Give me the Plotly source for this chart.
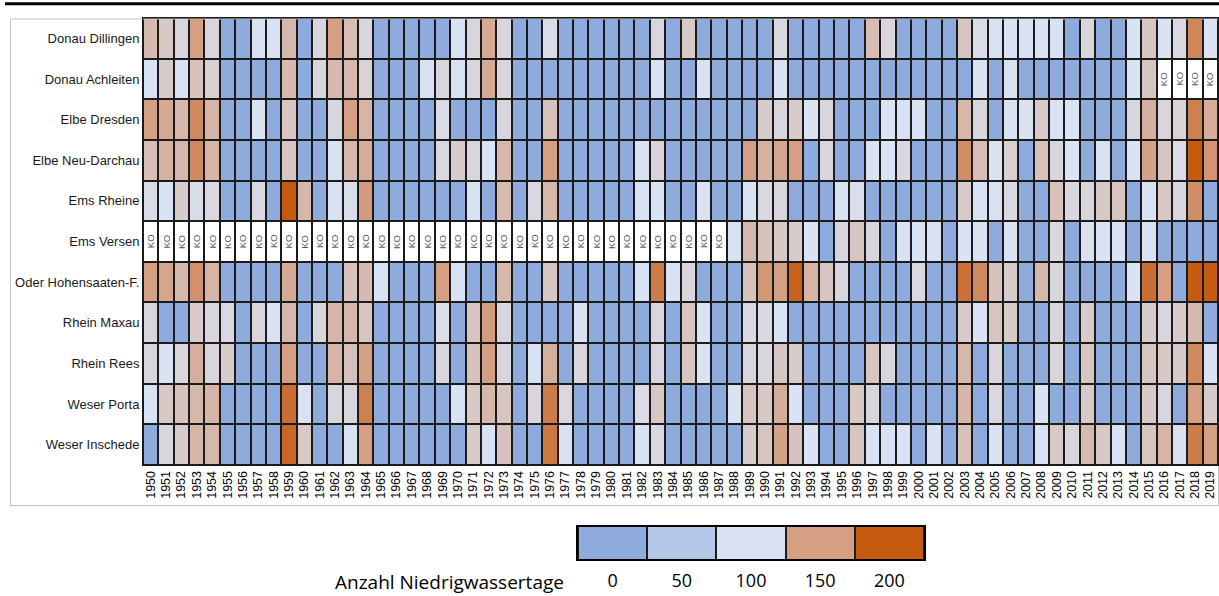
import plotly.graph_objects as go

# Gauging stations (rows, top to bottom) and years (columns)
stations = [
    "Donau Dillingen", "Donau Achleiten", "Elbe Dresden", "Elbe Neu-Darchau",
    "Ems Rheine", "Ems Versen", "Oder Hohensaaten-F.", "Rhein Maxau",
    "Rhein Rees", "Weser Porta", "Weser Inschede",
]
years = [str(y) for y in range(1950, 2020)]

# Number of low-water days per year, 1950-2019 (None = no data, "KO")
donau_dillingen = [
    130, 120, 110, 150, 110, 0, 0, 98, 98, 132, 0, 110, 150, 128, 110, 0, 0,
    0, 0, 0, 98, 110, 143, 110, 0, 0, 105, 0, 0, 0, 0, 0, 0, 110, 0,
    120, 0, 0, 0, 0, 0, 108, 0, 0, 0, 0, 0, 128, 110, 0, 0, 0,
    0, 122, 106, 98, 100, 98, 100, 98, 0, 110, 0, 0, 100, 122, 100, 108, 168, 100,
]
donau_achleiten = [
    98, 118, 98, 124, 115, 0, 0, 0, 0, 130, 0, 110, 130, 132, 112, 0, 0,
    0, 98, 110, 98, 110, 142, 110, 0, 0, 0, 0, 0, 0, 0, 0, 0, 98, 0,
    0, 98, 0, 0, 0, 0, 98, 0, 0, 0, 0, 0, 0, 0, 0, 0, 0,
    0, 0, 98, 0, 98, 0, 0, 0, 0, 0, 0, 0, 100, 122, None, None, None, None,
]
elbe_dresden = [
    150, 143, 132, 165, 134, 0, 0, 100, 0, 122, 0, 0, 110, 150, 134, 0, 0,
    0, 0, 106, 0, 0, 0, 110, 0, 0, 125, 0, 0, 0, 0, 0, 0, 0, 0,
    0, 0, 0, 0, 0, 118, 110, 118, 100, 110, 0, 0, 0, 100, 98, 100, 0,
    0, 132, 110, 0, 100, 100, 118, 100, 100, 0, 0, 0, 110, 138, 110, 112, 172, 140,
]
elbe_neu_darchau = [
    128, 136, 132, 165, 134, 0, 0, 0, 0, 122, 0, 0, 98, 132, 140, 0, 0,
    0, 0, 108, 118, 110, 100, 132, 0, 0, 150, 0, 0, 0, 0, 0, 98, 112, 0,
    0, 0, 0, 0, 150, 136, 145, 150, 0, 110, 0, 0, 100, 100, 108, 0, 0,
    0, 162, 128, 100, 115, 0, 125, 110, 100, 0, 98, 0, 100, 148, 122, 106, 205, 158,
]
ems_rheine = [
    106, 100, 118, 106, 108, 0, 0, 108, 0, 226, 132, 0, 98, 104, 152, 0, 0,
    0, 0, 0, 0, 98, 0, 130, 0, 108, 132, 0, 0, 0, 0, 0, 98, 100, 0,
    0, 100, 0, 0, 98, 108, 110, 0, 0, 0, 98, 104, 0, 0, 0, 0, 0,
    0, 118, 100, 102, 108, 0, 0, 125, 108, 110, 120, 122, 0, 100, 120, 110, 162, 0,
]
ems_versen = [
    None, None, None, None, None, None, None, None, None, None,
    None, None, None, None, None, None, None, None, None, None,
    None, None, None, None, None, None, None, None, None, None,
    None, None, None, None, None, None, None, None,
    98, 132, 124, 120, 118, 100, 0, 110, 122, 110, 0, 98, 100, 98,
    0, 100, 98, 0, 100, 0, 0, 108, 0, 102, 100, 100, 0, 98, 0, 0, 0, 0,
]
oder_hohensaaten = [
    150, 145, 132, 160, 134, 0, 0, 0, 0, 142, 0, 0, 0, 124, 130, 98, 0,
    0, 0, 150, 98, 0, 0, 132, 0, 0, 122, 0, 0, 0, 0, 0, 100, 175, 100,
    110, 0, 0, 0, 124, 156, 150, 195, 134, 122, 110, 0, 0, 0, 0, 108, 0,
    0, 183, 165, 124, 118, 0, 132, 110, 0, 0, 0, 0, 100, 185, 150, 0, 215, 212,
]
rhein_maxau = [
    110, 0, 0, 118, 110, 108, 0, 110, 100, 132, 0, 110, 134, 132, 122, 0, 0,
    0, 0, 104, 0, 122, 152, 110, 0, 0, 0, 0, 100, 0, 0, 0, 0, 110, 0,
    122, 100, 0, 0, 108, 108, 100, 0, 0, 0, 0, 0, 0, 0, 0, 0, 0,
    0, 118, 100, 122, 118, 0, 0, 110, 0, 118, 0, 0, 0, 118, 110, 118, 130, 0,
]
rhein_rees = [
    110, 100, 110, 138, 110, 118, 0, 0, 0, 150, 0, 0, 134, 126, 150, 0, 0,
    0, 0, 110, 0, 124, 150, 110, 0, 98, 138, 0, 110, 0, 0, 0, 0, 110, 0,
    122, 100, 0, 0, 110, 110, 122, 118, 0, 0, 0, 0, 122, 110, 0, 0, 0,
    0, 132, 0, 110, 0, 0, 0, 110, 0, 122, 0, 0, 0, 122, 120, 118, 165, 100,
]
weser_porta = [
    100, 120, 124, 132, 134, 0, 0, 0, 0, 185, 100, 0, 110, 110, 172, 0, 0,
    0, 0, 0, 98, 120, 132, 122, 0, 110, 175, 108, 0, 0, 0, 0, 106, 120, 0,
    0, 0, 0, 100, 122, 120, 140, 100, 0, 0, 0, 120, 110, 0, 0, 0, 0,
    0, 133, 0, 108, 0, 0, 100, 0, 0, 120, 0, 0, 0, 120, 110, 0, 150, 118,
]
weser_inschede = [
    0, 110, 118, 134, 132, 0, 0, 0, 0, 190, 120, 0, 0, 98, 150, 0, 0,
    0, 0, 0, 0, 118, 98, 124, 0, 0, 178, 98, 0, 0, 0, 0, 98, 108, 0,
    0, 0, 0, 0, 118, 122, 148, 124, 100, 0, 0, 122, 100, 98, 100, 0, 98,
    0, 125, 0, 98, 0, 0, 98, 120, 110, 130, 120, 98, 0, 122, 134, 98, 175, 150,
]

# Legend classes
legend_values = [0, 50, 100, 150, 200]
legend_title = "Anzahl Niedrigwassertage"

z = [
    donau_dillingen, donau_achleiten, elbe_dresden, elbe_neu_darchau,
    ems_rheine, ems_versen, oder_hohensaaten, rhein_maxau,
    rhein_rees, weser_porta, weser_inschede,
]

colorscale = [
    [0.00, "#8FAADC"],
    [0.25, "#B4C7E7"],
    [0.50, "#DAE3F3"],
    [0.75, "#D49F83"],
    [1.00, "#C55A11"],
]

W, H = 1219, 596
def px_x(v):
    return v / W
def px_y(v):
    return 1 - v / H

fig = go.Figure()

# main heatmap
fig.add_trace(go.Heatmap(
    z=z, x=years, y=stations,
    colorscale=colorscale, zmin=0, zmax=200,
    xgap=2, ygap=2, showscale=False, hoverongaps=False,
    xaxis="x", yaxis="y",
))

# white cells for missing data
ko_mask = [[1 if v is None else None for v in row] for row in z]
fig.add_trace(go.Heatmap(
    z=ko_mask, x=years, y=stations,
    colorscale=[[0, "#FFFFFF"], [1, "#FFFFFF"]],
    xgap=2, ygap=2, showscale=False, hoverinfo="skip",
    xaxis="x", yaxis="y",
))

# legend strip
fig.add_trace(go.Heatmap(
    z=[legend_values], x=[str(v) for v in legend_values], y=[""],
    colorscale=colorscale, zmin=0, zmax=200,
    xgap=2, showscale=False, hoverinfo="skip",
    xaxis="x2", yaxis="y2",
))

# "KO" labels in the no-data cells (category index positions)
annotations = []
for i, row in enumerate(z):
    for j, v in enumerate(row):
        if v is None:
            annotations.append(dict(
                x=j, y=i, xref="x", yref="y",
                text="KO", textangle=-90, showarrow=False,
                font=dict(family="Arial, Liberation Sans", size=9.5, color="#595959"),
            ))

annotations.append(dict(
    x=px_x(566), y=px_y(582), xref="paper", yref="paper",
    xanchor="right", yanchor="middle", text=legend_title, showarrow=False,
    font=dict(family="Open Sans", size=19, color="#000000"),
))

fig.update_layout(
    width=W, height=H,
    margin=dict(l=0, r=0, t=0, b=0),
    paper_bgcolor="#FFFFFF",
    plot_bgcolor="#1B1B1B",
    showlegend=False,
    annotations=annotations,
    xaxis=dict(
        domain=[px_x(143), px_x(1218)], anchor="y",
        type="category", categoryorder="array", categoryarray=years,
        range=[-0.5, len(years) - 0.5],
        tickangle=-90, showgrid=False, zeroline=False,
        ticks="", showline=True, mirror=True, linecolor="#1B1B1B", linewidth=1,
        tickfont=dict(family="Arial, Liberation Sans", size=12.5, color="#000000"),
    ),
    yaxis=dict(
        domain=[px_y(465), px_y(18)], anchor="x",
        type="category", categoryorder="array", categoryarray=stations,
        range=[len(stations) - 0.5, -0.5],
        showgrid=False, zeroline=False,
        ticks="", showline=True, mirror=True, linecolor="#1B1B1B", linewidth=1,
        tickfont=dict(family="Arial, Liberation Sans", size=13, color="#1A1A1A"),
    ),
    xaxis2=dict(
        domain=[px_x(578), px_x(924)], anchor="y2",
        type="category", showgrid=False, zeroline=False,
        showline=True, mirror=True, linecolor="#000000", linewidth=2,
        ticks="outside", ticklen=4, tickcolor="rgba(0,0,0,0)",
        tickfont=dict(family="Open Sans", size=18, color="#000000"),
    ),
    yaxis2=dict(
        domain=[px_y(559), px_y(527)], anchor="x2",
        showgrid=False, zeroline=False, showticklabels=False,
        showline=True, mirror=True, linecolor="#000000", linewidth=2,
    ),
    shapes=[
        dict(type="line", xref="paper", yref="paper",
             x0=px_x(5), x1=1, y0=px_y(3.7), y1=px_y(3.7),
             line=dict(color="#000000", width=3)),
        dict(type="rect", xref="paper", yref="paper", layer="below",
             x0=px_x(10.5), x1=px_x(1218.5), y0=px_y(505.5), y1=px_y(19),
             line=dict(color="#BFBFBF", width=1)),
    ],
)

fig.write_html("out.html")
